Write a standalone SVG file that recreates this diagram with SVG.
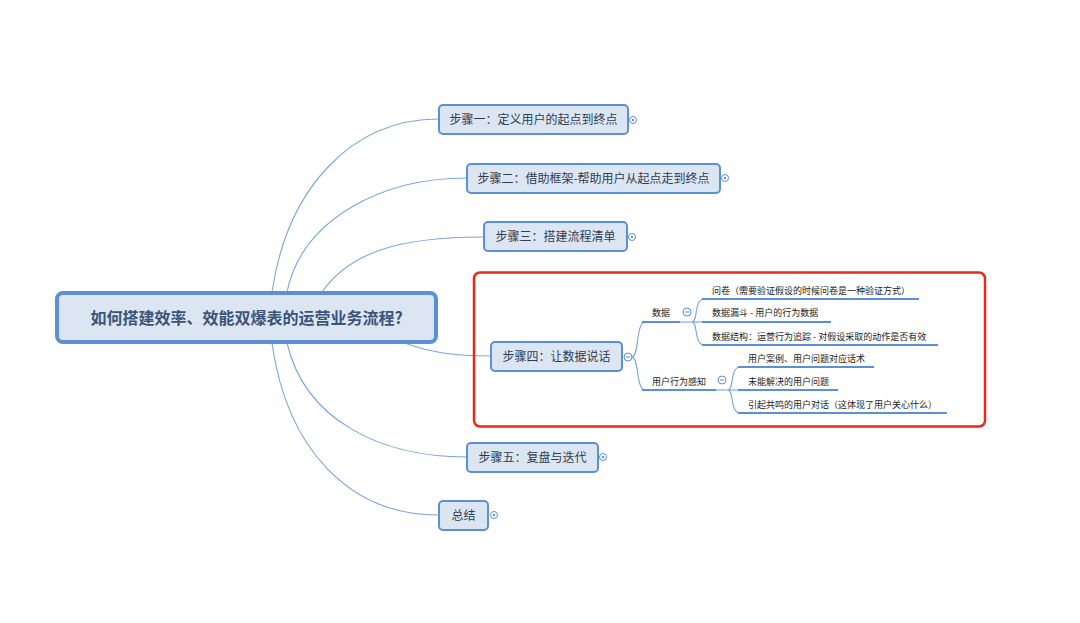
<svg xmlns="http://www.w3.org/2000/svg" width="1080" height="623" viewBox="0 0 1080 623">
<defs>
<style>
.conn{fill:none;stroke:#7aa6de;stroke-width:1.1}
.box{fill:#dce6f2;stroke:#5b8fd6;stroke-width:2}
.main{fill:#dce6f2;stroke:#5b8fd6;stroke-width:4}
.t{font-family:"Noto Sans CJK SC","Liberation Sans",sans-serif;fill:#2f3d52}
.st{font-size:12px}
.sub{font-size:9px;fill:#222}
.ul{stroke:#5b8fd6;stroke-width:2.2;fill:none}
.tog{fill:#fff;stroke:#5b8fd6;stroke-width:1}
.sign{stroke:#5b8fd6;stroke-width:1;fill:none}
</style>
</defs>
<rect width="1080" height="623" fill="#fff"/>
<g id="connectors">
<path class="conn" d="M272,292 C287,190 350,119 439,119"/>
<path class="conn" d="M287,292 C302,220 380,178 467,178"/>
<path class="conn" d="M322,292 C350,252 400,237 483,237"/>
<path class="conn" d="M407,344 C430,352 452,356 491,356"/>
<path class="conn" d="M287,343 C305,420 380,457 467,457"/>
<path class="conn" d="M272,343 C287,450 350,515 438,515"/>
<path class="conn" d="M632,357 C639,357 636,322 645,322"/>
<path class="conn" d="M632,357 C639,357 636,390 645,390"/>
<path class="conn" d="M680,322 L702,322"/>
<path class="conn" d="M692,322 C698,322 694,299 704,299"/>
<path class="conn" d="M692,322 C698,322 694,345 704,345"/>
<path class="conn" d="M716,390 L738,390"/>
<path class="conn" d="M728,390 C734,390 730,367 740,367"/>
<path class="conn" d="M728,390 C734,390 730,413 740,413"/>
</g>
<g id="root">
<rect class="main" x="57" y="293" width="379" height="49" rx="6"/>
<text class="t" x="246.5" y="323.5" font-size="16" font-weight="bold" text-anchor="middle" fill="#3b5479" style="fill:#3b5479">如何搭建效率、效能双爆表的运营业务流程?</text>
</g>
<g id="step1">
<rect class="box" x="439" y="105" width="189" height="29" rx="4"/>
<text class="t st" x="533.5" y="124" text-anchor="middle">步骤一：定义用户的起点到终点</text>
<circle class="tog" cx="633" cy="120" r="3.5"/><circle cx="633" cy="120" r="1.2" fill="#5b8fd6"/>
</g>
<g id="step2">
<rect class="box" x="467" y="164" width="253" height="29" rx="4"/>
<text class="t st" x="593.5" y="183" text-anchor="middle">步骤二：借助框架-帮助用户从起点走到终点</text>
<circle class="tog" cx="725" cy="178" r="3.5"/><circle cx="725" cy="178" r="1.2" fill="#5b8fd6"/>
</g>
<g id="step3">
<rect class="box" x="484" y="222" width="143" height="29" rx="4"/>
<text class="t st" x="555.5" y="241" text-anchor="middle">步骤三：搭建流程清单</text>
<circle class="tog" cx="632" cy="237" r="3.5"/><circle cx="632" cy="237" r="1.2" fill="#5b8fd6"/>
</g>
<g id="highlight">
<rect x="474" y="272.5" width="511" height="154" rx="6" fill="none" stroke="#e8291c" stroke-width="2.5"/>
</g>
<g id="step4">
<rect class="box" x="491" y="342" width="131" height="29" rx="4"/>
<text class="t st" x="556.5" y="361" text-anchor="middle">步骤四：让数据说话</text>
<circle class="tog" cx="628" cy="357" r="4"/><path class="sign" d="M625.8,357 H630.2"/>
</g>
<g id="data">
<path class="ul" d="M642,322 H680"/>
<text class="t sub" x="652" y="316">数据</text>
<circle class="tog" cx="687" cy="312" r="4"/><path class="sign" d="M684.8,312 H689.2"/>
</g>
<g id="data-1">
<path class="ul" d="M702,299 H919"/>
<text class="t sub" x="712" y="294">问卷（需要验证假设的时候问卷是一种验证方式）</text>
</g>
<g id="data-2">
<path class="ul" d="M702,322 H831"/>
<text class="t sub" x="712" y="316">数据漏斗 - 用户的行为数据</text>
</g>
<g id="data-3">
<path class="ul" d="M702,345 H938"/>
<text class="t sub" x="712" y="340">数据结构：运营行为追踪 - 对假设采取的动作是否有效</text>
</g>
<g id="behavior">
<path class="ul" d="M642,390 H716"/>
<text class="t sub" x="652" y="385">用户行为感知</text>
<circle class="tog" cx="722" cy="380" r="4"/><path class="sign" d="M719.8,380 H724.2"/>
</g>
<g id="behavior-1">
<path class="ul" d="M738,367 H874"/>
<text class="t sub" x="748" y="362">用户案例、用户问题对应话术</text>
</g>
<g id="behavior-2">
<path class="ul" d="M738,390 H838"/>
<text class="t sub" x="748" y="385">未能解决的用户问题</text>
</g>
<g id="behavior-3">
<path class="ul" d="M738,413 H947"/>
<text class="t sub" x="748" y="408">引起共鸣的用户对话（这体现了用户关心什么）</text>
</g>
<g id="step5">
<rect class="box" x="467" y="443" width="131" height="29" rx="4"/>
<text class="t st" x="532.5" y="462" text-anchor="middle">步骤五：复盘与迭代</text>
<circle class="tog" cx="603" cy="457" r="3.5"/><circle cx="603" cy="457" r="1.2" fill="#5b8fd6"/>
</g>
<g id="summary">
<rect class="box" x="439" y="501" width="49" height="29" rx="4"/>
<text class="t st" x="463.5" y="520" text-anchor="middle">总结</text>
<circle class="tog" cx="494" cy="515" r="3.5"/><circle cx="494" cy="515" r="1.2" fill="#5b8fd6"/>
</g>
</svg>
